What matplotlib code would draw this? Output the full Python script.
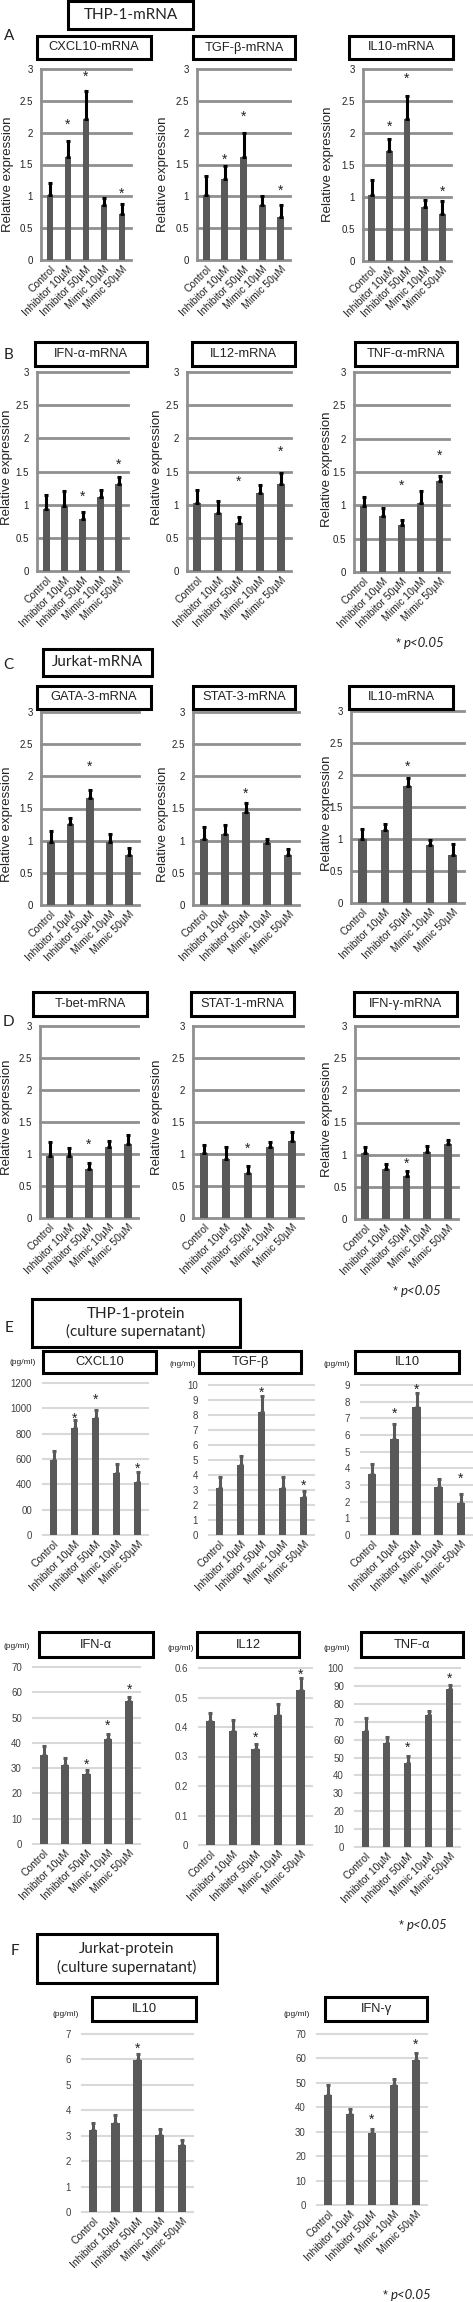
import numpy as np
import matplotlib
matplotlib.use('Agg')
import matplotlib.pyplot as plt
from matplotlib.patches import Rectangle
from matplotlib.transforms import offset_copy

plt.rcParams['font.family'] = ['Liberation Sans', 'DejaVu Sans']

W, H = 473, 2302
BAR = '#595959'
GRID_MRNA = '#8f8f8f'
GRID_PROT = '#d9d9d9'
TXT = '#222222'
HEAD = ['Lato', 'DejaVu Sans']

groups = ['Control', 'Inhibitor 10µM', 'Inhibitor 50µM', 'Mimic 10µM', 'Mimic 50µM']

# ---- mRNA (relative expression) ----
cxcl10_mrna = [1.02, 1.61, 2.22, 0.87, 0.72]
cxcl10_mrna_sd = [0.19, 0.26, 0.44, 0.10, 0.16]
cxcl10_mrna_star = [None, 2.17, 2.92, None, 1.09]

tgfb_mrna = [1.02, 1.27, 1.62, 0.87, 0.67]
tgfb_mrna_sd = [0.30, 0.21, 0.37, 0.13, 0.20]
tgfb_mrna_star = [None, 1.62, 2.30, None, 1.14]

il10_thp_mrna = [1.03, 1.72, 2.22, 0.84, 0.73]
il10_thp_mrna_sd = [0.24, 0.19, 0.36, 0.12, 0.21]
il10_thp_mrna_star = [None, 2.14, 2.89, None, 1.13]

ifna_mrna = [0.93, 0.98, 0.78, 1.12, 1.31]
ifna_mrna_sd = [0.22, 0.22, 0.11, 0.10, 0.10]
ifna_mrna_star = [None, None, 1.17, None, 1.65]

il12_mrna = [1.03, 0.88, 0.73, 1.17, 1.31]
il12_mrna_sd = [0.19, 0.17, 0.09, 0.13, 0.16]
il12_mrna_star = [None, None, 1.39, None, 1.84]

tnfa_mrna = [0.99, 0.84, 0.70, 1.04, 1.37]
tnfa_mrna_sd = [0.14, 0.12, 0.08, 0.17, 0.07]
tnfa_mrna_star = [None, None, 1.34, None, 1.79]

gata3_mrna = [0.98, 1.26, 1.66, 0.98, 0.77]
gata3_mrna_sd = [0.17, 0.09, 0.13, 0.13, 0.12]
gata3_mrna_star = [None, None, 2.19, None, None]

stat3_mrna = [1.02, 1.11, 1.45, 0.97, 0.77]
stat3_mrna_sd = [0.20, 0.13, 0.13, 0.06, 0.10]
stat3_mrna_star = [None, None, 1.78, None, None]

il10_jur_mrna = [1.00, 1.14, 1.83, 0.90, 0.75]
il10_jur_mrna_sd = [0.15, 0.09, 0.13, 0.09, 0.17]
il10_jur_mrna_star = [None, None, 2.18, None, None]

tbet_mrna = [0.97, 0.97, 0.76, 1.11, 1.16]
tbet_mrna_sd = [0.21, 0.13, 0.10, 0.10, 0.13]
tbet_mrna_star = [None, None, 1.19, None, None]

stat1_mrna = [1.01, 0.92, 0.71, 1.11, 1.21]
stat1_mrna_sd = [0.13, 0.19, 0.10, 0.08, 0.13]
stat1_mrna_star = [None, None, 1.13, None, None]

ifng_mrna = [1.02, 0.77, 0.67, 1.04, 1.17]
ifng_mrna_sd = [0.10, 0.08, 0.07, 0.09, 0.06]
ifng_mrna_star = [None, None, 0.90, None, None]

# ---- protein (culture supernatant) ----
cxcl10_prot = [595, 845, 925, 491, 416]
cxcl10_prot_sd = [67, 64, 59, 67, 85]
cxcl10_prot_star = [None, 939, 1089, None, 545]
cxcl10_ticks = ['0', '00', '400', '600', '800', '1000', '1200']

tgfb_prot = [3.15, 4.69, 8.20, 3.15, 2.53]
tgfb_prot_sd = [0.70, 0.55, 1.07, 0.75, 0.40]
tgfb_prot_star = [None, None, 9.67, None, 3.47]

il10_thp_prot = [3.66, 5.74, 7.66, 2.90, 1.94]
il10_thp_prot_sd = [0.60, 0.92, 0.84, 0.46, 0.52]
il10_thp_prot_star = [None, 7.44, 8.88, None, 3.54]

ifna_prot = [35.2, 31.4, 27.8, 41.4, 56.4]
ifna_prot_sd = [3.6, 2.6, 1.3, 2.0, 1.9]
ifna_prot_star = [None, None, 32.4, 47.8, 62.0]

il12_prot = [0.420, 0.388, 0.324, 0.442, 0.527]
il12_prot_sd = [0.026, 0.035, 0.017, 0.037, 0.039]
il12_prot_star = [None, None, 0.373, None, 0.586]

tnfa_prot = [64.9, 58.0, 47.2, 73.9, 88.2]
tnfa_prot_sd = [7.1, 3.4, 3.7, 2.2, 2.5]
tnfa_prot_star = [None, None, 57.0, None, 95.5]

il10_jur_prot = [3.23, 3.49, 5.98, 3.01, 2.62]
il10_jur_prot_sd = [0.26, 0.33, 0.24, 0.26, 0.22]
il10_jur_prot_star = [None, None, 6.53, None, None]

ifng_prot = [45.0, 37.2, 29.6, 49.1, 59.4]
ifng_prot_sd = [4.1, 2.1, 1.5, 2.4, 2.7]
ifng_prot_star = [None, None, 36.0, None, 66.7]


fig = plt.figure(figsize=(W / 100, H / 100), dpi=100)


def px_axes(x0, ytop, x1, ybot):
    return fig.add_axes([x0 / W, 1 - ybot / H, (x1 - x0) / W, (ybot - ytop) / H])


def box(x0, y0, x1, y1, text, fs=9.3, family=None, lw=2.2):
    fig.patches.append(Rectangle((x0 / W, 1 - y1 / H), (x1 - x0) / W, (y1 - y0) / H,
                                 transform=fig.transFigure, fill=False,
                                 lw=lw, ec='black'))
    fig.text((x0 + x1) / 2 / W, 1 - (y0 + y1) / 2 / H, text, ha='center', va='center',
             fontsize=fs, color=TXT, family=family, linespacing=1.3)


def ftext(x, y, s, **kw):
    kw.setdefault('color', TXT)
    fig.text(x / W, 1 - y / H, s, **kw)


def draw_bars(ax, vals, sd, stars, ecolor):
    x = np.arange(len(vals))
    ax.bar(x, vals, width=0.38, color=BAR, zorder=3)
    ax.errorbar(x, vals, yerr=[np.zeros(len(vals)), sd], fmt='none', ecolor=ecolor,
                elinewidth=2.2, capsize=1.6, capthick=2.2, zorder=4)
    # the asterisk glyph sits high in its text box, so pull it down a little
    star_tr = offset_copy(ax.transData, fig=fig, y=-3, units='dots')
    for i, s in enumerate(stars):
        if s is not None:
            ax.text(i, s, '*', ha='center', va='center', fontsize=10, color=TXT,
                    zorder=5, transform=star_tr)
    ax.set_xlim(-0.5, len(vals) - 0.5)
    ax.set_xticks(x)
    ax.set_xticklabels(groups, rotation=45, ha='right', rotation_mode='anchor',
                       fontsize=7.5, color=TXT)
    ax.tick_params(axis='x', length=0, pad=3)
    ax.patch.set_visible(False)


def mrna_panel(rect, vals, sd, stars):
    ax = px_axes(*rect)
    ticks = np.arange(0, 3.01, 0.5)
    for t in ticks:
        ax.axhline(t, color=GRID_MRNA, lw=2.0, zorder=1, clip_on=False)
    draw_bars(ax, vals, sd, stars, 'black')
    ax.set_ylim(0, 3)
    for side in ['top', 'right', 'bottom']:
        ax.spines[side].set_visible(False)
    ax.spines['left'].set_color(GRID_MRNA)
    ax.spines['left'].set_linewidth(2.0)
    ax.set_yticks(ticks)
    ax.set_yticklabels(['0', '0.5', '1', '1.5', '2', '2.5', '3'], fontsize=7, color=TXT)
    ax.tick_params(axis='y', length=0, pad=6)
    return ax


def prot_panel(rect, vals, sd, stars, top, step, labels=None):
    ax = px_axes(*rect)
    ticks = np.arange(0, top + step / 2, step)
    for t in ticks:
        ax.axhline(t, color=GRID_PROT, lw=1.5, zorder=1, clip_on=False)
    draw_bars(ax, vals, sd, stars, BAR)
    ax.set_ylim(0, top)
    for side in ax.spines:
        ax.spines[side].set_visible(False)
    ax.set_yticks(ticks)
    if labels is None:
        labels = ['%g' % round(t, 3) for t in ticks]
    ax.set_yticklabels(labels, fontsize=7, color='#404040')
    ax.tick_params(axis='y', length=0, pad=8)
    return ax


# ---------------- A ----------------
box(68, 1, 193, 29, 'THP-1-mRNA', fs=11, family=HEAD)
ftext(4, 36, 'A', fontsize=11, family=HEAD, va='center')
mrna_panel((41, 69, 131, 260), cxcl10_mrna, cxcl10_mrna_sd, cxcl10_mrna_star)
mrna_panel((197, 69, 290, 260), tgfb_mrna, tgfb_mrna_sd, tgfb_mrna_star)
mrna_panel((363, 69, 451, 261), il10_thp_mrna, il10_thp_mrna_sd, il10_thp_mrna_star)
box(37, 36, 151, 59, 'CXCL10-mRNA')
box(193, 36, 295, 59, 'TGF-β-mRNA')
box(349, 36, 453, 59, 'IL10-mRNA')

# ---------------- B ----------------
ftext(4, 355, 'B', fontsize=11, family=HEAD, va='center')
mrna_panel((37, 372, 128, 571), ifna_mrna, ifna_mrna_sd, ifna_mrna_star)
mrna_panel((187, 372, 291, 571), il12_mrna, il12_mrna_sd, il12_mrna_star)
mrna_panel((354, 372, 449, 572), tnfa_mrna, tnfa_mrna_sd, tnfa_mrna_star)
box(35, 342, 147, 366, 'IFN-α-mRNA')
box(192, 342, 295, 366, 'IL12-mRNA')
box(355, 342, 457, 366, 'TNF-α-mRNA')

# ---------------- C ----------------
box(43, 649, 152, 676, 'Jurkat-mRNA', fs=11, family=HEAD)
ftext(3, 665, 'C', fontsize=11, family=HEAD, va='center')
mrna_panel((41, 712, 139, 905), gata3_mrna, gata3_mrna_sd, gata3_mrna_star)
mrna_panel((193, 712, 299, 905), stat3_mrna, stat3_mrna_sd, stat3_mrna_star)
mrna_panel((351, 711, 464, 903), il10_jur_mrna, il10_jur_mrna_sd, il10_jur_mrna_star)
box(37, 686, 151, 709, 'GATA-3-mRNA')
box(193, 686, 295, 709, 'STAT-3-mRNA')
box(349, 686, 453, 709, 'IL10-mRNA')

# ---------------- D ----------------
ftext(3, 1022, 'D', fontsize=11, family=HEAD, va='center')
mrna_panel((40, 1026, 138, 1218), tbet_mrna, tbet_mrna_sd, tbet_mrna_star)
mrna_panel((193, 1026, 303, 1218), stat1_mrna, stat1_mrna_sd, stat1_mrna_star)
mrna_panel((355, 1026, 458, 1219), ifng_mrna, ifng_mrna_sd, ifng_mrna_star)
box(33, 992, 147, 1016, 'T-bet-mRNA')
box(191, 992, 294, 1016, 'STAT-1-mRNA')
box(354, 992, 457, 1016, 'IFN-γ-mRNA')

# y labels of the mRNA panels
for (xc, yc) in [(8, 174), (163, 174), (328, 164), (7, 467), (157, 467), (327, 469),
                 (7, 824), (163, 824), (327, 813), (7, 1117), (157, 1117), (327, 1119)]:
    ftext(xc, yc, 'Relative expression', rotation=90, fontsize=9.5,
          ha='center', va='center')

# p value notes
def pnote(x, y):
    ftext(x, y, '*', fontsize=9, va='center', ha='left')
    ftext(x + 8, y, 'p<0.05', fontsize=9.5, va='center', ha='left',
          family=HEAD, style='italic')


pnote(396, 643)
pnote(393, 1291)

# ---------------- E ----------------
box(32, 1299, 240, 1347, 'THP-1-protein\n(culture supernatant)', fs=11, family=HEAD)
ftext(5, 1328, 'E', fontsize=11, family=HEAD, va='center')
prot_panel((43, 1383, 148, 1535), cxcl10_prot, cxcl10_prot_sd, cxcl10_prot_star,
           1200, 200, cxcl10_ticks)
prot_panel((209, 1385, 314, 1535), tgfb_prot, tgfb_prot_sd, tgfb_prot_star, 10, 1)
prot_panel((361, 1385, 472, 1535), il10_thp_prot, il10_thp_prot_sd, il10_thp_prot_star, 9, 1)
box(43, 1351, 156, 1373, 'CXCL10')
box(199, 1351, 301, 1373, 'TGF-β')
box(355, 1351, 459, 1373, 'IL10')
ftext(23, 1362, '(pg/ml)', fontsize=6, ha='center', va='center')
ftext(183, 1364, '(ng/ml)', fontsize=6, ha='center', va='center')
ftext(337, 1364, '(pg/ml)', fontsize=6, ha='center', va='center')

prot_panel((33, 1667, 140, 1844), ifna_prot, ifna_prot_sd, ifna_prot_star, 70, 10)
prot_panel((199, 1668, 312, 1845), il12_prot, il12_prot_sd, il12_prot_star, 0.6, 0.1)
prot_panel((355, 1668, 460, 1847), tnfa_prot, tnfa_prot_sd, tnfa_prot_star, 100, 10)
box(39, 1632, 153, 1657, 'IFN-α')
box(197, 1632, 299, 1657, 'IL12')
box(361, 1632, 463, 1657, 'TNF-α')
ftext(17, 1647, '(pg/ml)', fontsize=6, ha='center', va='center')
ftext(181, 1648, '(pg/ml)', fontsize=6, ha='center', va='center')
ftext(337, 1648, '(pg/ml)', fontsize=6, ha='center', va='center')
pnote(399, 1925)

# ---------------- F ----------------
box(37, 1934, 217, 1983, 'Jurkat-protein\n(culture supernatant)', fs=11, family=HEAD)
ftext(11, 1951, 'F', fontsize=11, family=HEAD, va='center')
prot_panel((82, 2034, 193, 2212), il10_jur_prot, il10_jur_prot_sd, il10_jur_prot_star, 7, 1)
prot_panel((317, 2034, 427, 2205), ifng_prot, ifng_prot_sd, ifng_prot_star, 70, 10)
box(92, 1997, 196, 2021, 'IL10')
box(325, 1997, 427, 2021, 'IFN-γ')
ftext(66, 2015, '(pg/ml)', fontsize=6, ha='center', va='center')
ftext(297, 2015, '(pg/ml)', fontsize=6, ha='center', va='center')
pnote(383, 2295)

fig.savefig('out.png', dpi=100, facecolor='white')
